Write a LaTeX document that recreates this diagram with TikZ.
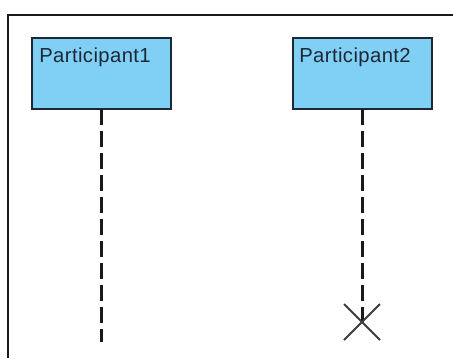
\documentclass[tikz,border=0pt]{standalone}
\usepackage{fontspec}
\setmainfont{Liberation Sans}[LetterSpace=2]
\begin{document}
\definecolor{boxfill}{HTML}{80CFF5}
\definecolor{boxline}{HTML}{1C2836}
\definecolor{inkline}{HTML}{1A1A1A}
\begin{tikzpicture}[x=0.75pt,y=-0.75pt,
  lifebox/.style={draw=boxline,fill=boxfill,line width=1.6pt,minimum width=104.25pt,minimum height=53.25pt,inner sep=0pt,outer sep=0pt},
  boxtext/.style={anchor=base west,inner sep=0pt,text=boxline,font=\fontsize{15.2}{18}\selectfont},
  lifeline/.style={draw=inkline,line width=1.8pt,dash pattern=on 12pt off 4.5pt},
  frameline/.style={draw=inkline,line width=1.6pt},
  stopmark/.style={draw=inkline!85,line width=1.4pt}]
\useasboundingbox (0,0) rectangle (453,358);
\fill[white] (0,0) rectangle (453,358);
% outer frame, open on the right and bottom
\coordinate (fl) at (8,358);
\coordinate (ft) at (8,15);
\coordinate (fr) at (453,15);
\draw[frameline] (fl) -- (ft) -- (fr);
% participant heads
\node[lifebox] (p1) at (101.5,73.5) {};
\node[lifebox] (p2) at (362.5,73.5) {};
\node[boxtext] (t1) at (39,62) {Participant1};
\node[boxtext] (t2) at (299,62) {Participant2};
% lifelines
\coordinate (e1) at (p1.south |- 0,342);
\coordinate (x2) at (p2.south |- 0,322);
\draw[lifeline] (p1.south) -- (e1);
\draw[lifeline] (p2.south) -- (x2);
% destruction mark
\coordinate (xa) at (344,304);
\coordinate (xb) at (380,340);
\coordinate (xc) at (380,304);
\coordinate (xd) at (344,340);
\draw[stopmark] (xa) -- (xb);
\draw[stopmark] (xc) -- (xd);
\end{tikzpicture}
\end{document}
